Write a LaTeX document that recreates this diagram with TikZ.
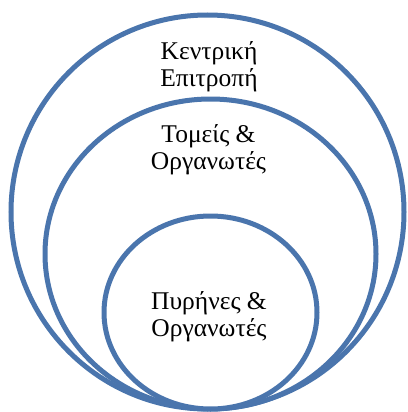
\documentclass[tikz,border=0pt]{standalone}
\usepackage{fontspec}
\setmainfont{Liberation Serif}
\usepackage{tikz}
\usetikzlibrary{positioning}
\definecolor{ringblue}{RGB}{74,117,173}

\begin{document}
\begin{tikzpicture}[x=1pt,y=-1pt,
    ring/.style={draw=ringblue,line width=5pt,fill=white},
    lbl/.style={align=center,font=\fontsize{25.5}{27}\selectfont,inner sep=0pt}]
      \useasboundingbox (0,0) rectangle (407,412);
      \draw[ring] (207.5,212) ellipse (196.5 and 197);   % outer
      \draw[ring] (210.5,254) ellipse (165.5 and 155);   % middle
      \draw[ring] (210.5,312.5) ellipse (106.5 and 96.5); % inner

      \node[lbl] at (209,67)(central){Κεντρική\\Επιτροπή};
      \node[lbl] at (208.5,150)(sectors){Τομείς \&\\Οργανωτές};
      \node[lbl] at (209,316.5)(cores){Πυρήνες \&\\Οργανωτές};
\end{tikzpicture}
\end{document}
